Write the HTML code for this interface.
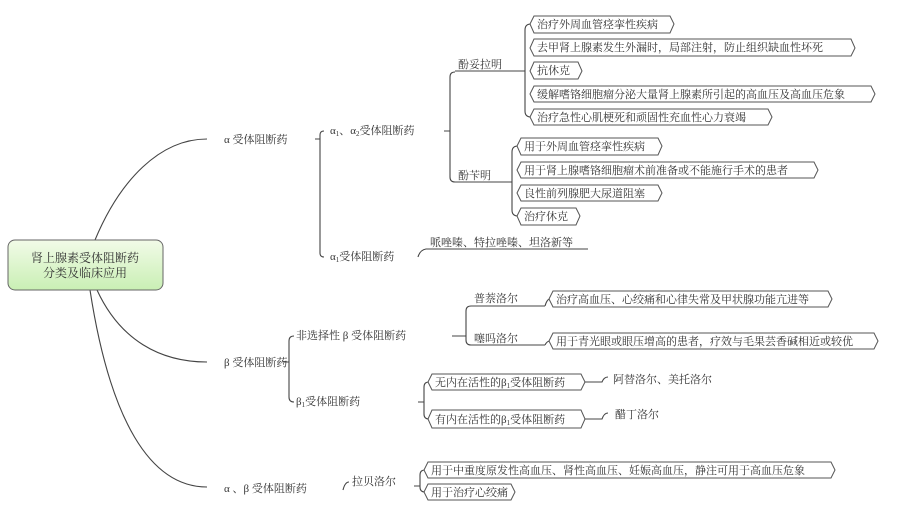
<!DOCTYPE html>
<html><head><meta charset="utf-8"><style>
html,body{margin:0;padding:0;background:#fff;}
svg{display:block;font-family:"Liberation Serif","Noto Serif CJK SC","Noto Sans CJK SC",serif;font-size:11px;fill:#333;}
.l{fill:none;stroke:#444;stroke-width:1.1;}
.b{fill:#fff;stroke:#555;stroke-width:1;}
</style></head><body>
<svg width="910" height="525" viewBox="0 0 910 525">
<defs><linearGradient id="g" x1="0" y1="0" x2="0" y2="1"><stop offset="0" stop-color="#f2fbe8"/><stop offset="1" stop-color="#c9efb4"/></linearGradient></defs>
<path class="l" d="M95,240 C120,180 160,139 207,139"/>
<path class="l" d="M97,290 C120,340 160,362 207,362"/>
<path class="l" d="M90,290 C110,420 150,487 207,487"/>
<rect x="8" y="240" width="155" height="50" rx="7" fill="url(#g)" stroke="#666"/>
<text x="85" y="262" text-anchor="middle" font-size="12">肾上腺素受体阻断药</text>
<text x="85" y="277" text-anchor="middle" font-size="12">分类及临床应用</text>
<text x="224" y="143">α 受体阻断药</text>
<text x="224" y="366">β 受体阻断药</text>
<text x="224" y="492">α 、β 受体阻断药</text>
<path class="l" d="M315,139 H320 M324,131 Q320,131 320,135 V253 Q320,257 324,257"/>
<text x="330" y="134">α<tspan font-size="7" dy="2">1</tspan><tspan dy="-2">、α</tspan><tspan font-size="7" dy="2">2</tspan><tspan dy="-2">受体阻断药</tspan></text>
<text x="330" y="260">α<tspan font-size="7" dy="2">1</tspan><tspan dy="-2">受体阻断药</tspan></text>
<path class="l" d="M444,131 H450 M455,72 Q450,72 450,77 V177 Q450,182 455,182 M455,71 H525 M455,182 H512"/>
<text x="458" y="68">酚妥拉明</text>
<text x="458" y="179">酚苄明</text>
<path class="l" d="M418,257 Q420,250 426,249 H588"/>
<text x="430" y="246">哌唑嗪、特拉唑嗪、坦洛新等</text>
<path class="l" d="M531,24 Q525,24 525,30 V111 Q525,117 531,117"/>
<path class="l" d="M518,146 Q512,146 512,152 V210 Q512,216 518,216"/>
<g>
<polygon class="b" points="530,24 534,16 670,16 674,24 670,33 534,33"/>
<text x="537" y="28">治疗外周血管痉挛性疾病</text>
<polygon class="b" points="530,48 534,39 851,39 855,48 851,56 534,56"/>
<text x="537" y="51">去甲肾上腺素发生外漏时，局部注射，防止组织缺血性坏死</text>
<polygon class="b" points="530,71 534,62 578,62 582,71 578,79 534,79"/>
<text x="537" y="74">抗休克</text>
<polygon class="b" points="530,94 534,86 871,86 875,94 871,102 534,102"/>
<text x="537" y="98">缓解嗜铬细胞瘤分泌大量肾上腺素所引起的高血压及高血压危象</text>
<polygon class="b" points="530,117 534,109 768,109 772,117 768,125 534,125"/>
<text x="537" y="121">治疗急性心肌梗死和顽固性充血性心力衰竭</text>
<polygon class="b" points="517,146 521,138 658,138 662,146 658,155 521,155"/>
<text x="524" y="150">用于外周血管痉挛性疾病</text>
<polygon class="b" points="517,170 521,162 814,162 818,170 814,178 521,178"/>
<text x="524" y="174">用于肾上腺嗜铬细胞瘤术前准备或不能施行手术的患者</text>
<polygon class="b" points="517,193 521,185 658,185 662,193 658,201 521,201"/>
<text x="524" y="197">良性前列腺肥大尿道阻塞</text>
<polygon class="b" points="517,216 521,208 576,208 580,216 576,225 521,225"/>
<text x="524" y="220">治疗休克</text>
</g>
<path class="l" d="M283,362 H289 M294,336 Q289,336 289,341 V397 Q289,402 294,402"/>
<text x="296" y="339">非选择性 β 受体阻断药</text>
<text x="296" y="405">β<tspan font-size="7" dy="2">1</tspan><tspan dy="-2">受体阻断药</tspan></text>
<path class="l" d="M452,336 H466 M471,306 Q466,306 466,311 V340 Q466,345 471,345 M471,306 H545 M471,345 H545"/>
<text x="474" y="302">普萘洛尔</text>
<text x="474" y="342">噻吗洛尔</text>
<path class="l" d="M545,306 Q547,299 550,299 M545,345 Q547,341 550,341"/>
<polygon class="b" points="549,299 553,291 828,291 832,299 828,307 553,307"/>
<text x="556" y="303">治疗高血压、心绞痛和心律失常及甲状腺功能亢进等</text>
<polygon class="b" points="549,341 553,333 874,333 878,341 874,349 553,349"/>
<text x="556" y="345">用于青光眼或眼压增高的患者，疗效与毛果芸香碱相近或较优</text>
<path class="l" d="M418,402 H424 M429,382 Q424,382 424,387 V414 Q424,419 429,419"/>
<polygon class="b" points="428,382 432,374 581,374 585,382 581,390 432,390"/>
<text x="435" y="386">无内在活性的β<tspan font-size="7" dy="2">1</tspan><tspan dy="-2">受体阻断药</tspan></text>
<polygon class="b" points="428,419 432,410 581,410 585,419 581,428 432,428"/>
<text x="435" y="423">有内在活性的β<tspan font-size="7" dy="2">1</tspan><tspan dy="-2">受体阻断药</tspan></text>
<path class="l" d="M585,382 H602 Q604,377 608,377 M585,419 H602 Q604,413 608,413"/>
<text x="613" y="383">阿替洛尔、美托洛尔</text>
<text x="615" y="418">醋丁洛尔</text>
<path class="l" d="M343,490 Q345,482 349,482"/>
<text x="352" y="485">拉贝洛尔</text>
<path class="l" d="M414,486 H420 M425,470 Q420,470 420,475 V487 Q420,492 425,492"/>
<polygon class="b" points="424,470 428,462 831,462 835,470 831,478 428,478"/>
<text x="431" y="474">用于中重度原发性高血压、肾性高血压、妊娠高血压，静注可用于高血压危象</text>
<polygon class="b" points="424,492 428,484 511,484 515,492 511,500 428,500"/>
<text x="431" y="496">用于治疗心绞痛</text>
</svg>
</body></html>
